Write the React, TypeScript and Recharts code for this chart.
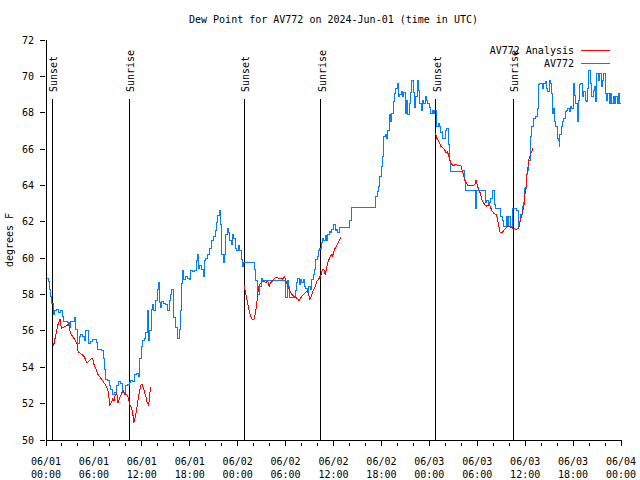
import { LineChart, Line, XAxis, YAxis, ReferenceLine } from "recharts";

// [hours since 06/01 00:00 UTC, dew point °F]
const blueDay1: [number, number][] = [
  [0, 58.9], [0.3, 58.7], [0.5, 58.3], [0.6, 57.9], [0.75, 57.5], [0.92, 56.9], [1.09, 57.1], [1.34, 57.2],
  [1.59, 57.0], [1.84, 57.1], [2.09, 56.8], [2.25, 56.5], [2.75, 56.45], [2.92, 56.2], [3.09, 56.5], [3.42, 56.5],
  [3.59, 56.75], [3.72, 56.1], [3.92, 55.3], [4.17, 55.7], [4.34, 55.8], [4.59, 55.7], [4.76, 55.45], [4.92, 56.0],
  [5.09, 56.05], [5.26, 55.3], [5.51, 55.4], [5.8, 55.55], [6.1, 55.55], [6.35, 55.35], [6.51, 55.0], [6.76, 55.0],
  [7.01, 54.9], [7.18, 54.5], [7.35, 53.9], [7.51, 53.35], [7.76, 53.3], [7.92, 53.0], [8.1, 52.8], [8.3, 52.5],
  [8.6, 52.6], [8.85, 53.0], [9.1, 53.2], [9.35, 53.1], [9.6, 52.65], [9.76, 52.6], [9.93, 53.0], [10.18, 53.05],
  [10.43, 53.15], [10.6, 53.3], [10.85, 53.2], [11.1, 53.6], [11.35, 53.65], [11.6, 53.5], [11.76, 54.5], [11.93, 55.15],
  [12.1, 55.45], [12.35, 55.6], [12.52, 55.9], [12.68, 57.1], [12.8, 55.45], [13.02, 56.0], [13.18, 57.2], [13.35, 57.45],
  [13.52, 57.1], [13.77, 57.7], [13.93, 58.3], [14.05, 58.65], [14.18, 57.55], [14.36, 57.3], [14.52, 57.6], [14.77, 57.5],
  [15.02, 57.45], [15.27, 57.1], [15.43, 57.65], [15.6, 58.0], [15.77, 58.3], [15.93, 57.65], [16.02, 56.75], [16.18, 56.2],
  [16.4, 56.2], [16.52, 55.6], [16.68, 56.1], [16.86, 57.1], [16.98, 58.6], [17.11, 59.3], [17.27, 58.85], [17.52, 59.0],
  [17.68, 58.9], [17.93, 58.85], [18.11, 59.3], [18.36, 59.25], [18.61, 59.3], [18.86, 59.85], [18.99, 60.2], [19.11, 59.45],
  [19.27, 59.6], [19.52, 59.4], [19.69, 59.0], [19.86, 59.85], [20.03, 60.0], [20.28, 60.2], [20.44, 60.55], [20.69, 60.95],
  [20.94, 61.2], [21.19, 61.55], [21.36, 61.95], [21.53, 62.35], [21.69, 62.65], [21.86, 61.85], [22.03, 60.2], [22.19, 59.75],
  [22.36, 60.2], [22.53, 61.3], [22.69, 61.65], [22.87, 61.4], [23.03, 60.95], [23.19, 60.75], [23.37, 61.3], [23.53, 61.1],
  [23.69, 60.55], [23.87, 60.4],
];
const blueDay2: [number, number][] = [
  [24.12, 60.7], [24.28, 60.4], [24.44, 59.95], [24.62, 59.55], [24.78, 59.75], [25.87, 59.75], [26.12, 59.4], [26.28, 58.75],
  [26.53, 58.0], [26.78, 58.45], [26.95, 58.9], [27.12, 58.75], [29.87, 58.75], [29.95, 58.2], [30.04, 57.85], [30.2, 58.75],
  [30.38, 58.45], [30.54, 57.85], [31.08, 57.85], [31.2, 58.2], [31.38, 58.65], [31.54, 58.9], [31.7, 58.55], [31.88, 58.85],
  [32.04, 58.65], [32.2, 58.85], [32.38, 58.45], [32.54, 58.35], [32.7, 58.1], [32.88, 58.45], [33.13, 58.3], [33.29, 58.85],
  [33.45, 59.1], [33.63, 59.4], [33.79, 59.95], [33.95, 60.1], [34.13, 60.4], [34.29, 60.55], [34.45, 60.85], [34.63, 61.1],
  [34.79, 60.95], [34.96, 61.25], [35.13, 60.95], [35.29, 61.3], [35.46, 61.45], [35.63, 61.4], [35.79, 61.6], [36.05, 61.85],
  [36.21, 61.55], [36.38, 61.6], [36.55, 61.4], [36.71, 61.7], [37.96, 61.7], [38.05, 62.1], [38.21, 62.8], [41.21, 62.8],
  [41.3, 63.4], [41.46, 63.65], [41.64, 63.95], [41.8, 64.5], [41.97, 65.05], [42.14, 65.6], [42.3, 66.7], [42.47, 66.8],
  [42.64, 66.6], [42.8, 67.05], [42.97, 67.9], [43.15, 67.5], [43.3, 67.95], [43.47, 68.6], [43.64, 69.05], [43.8, 69.35],
  [43.97, 69.6], [44.14, 68.9], [44.31, 69.0], [44.47, 69.15], [44.64, 68.9], [44.81, 69.1], [44.97, 67.95], [45.14, 68.7],
  [45.31, 67.9], [45.47, 68.5], [45.64, 69.1], [45.81, 69.8], [45.97, 69.1], [46.14, 68.3], [46.31, 68.9], [46.47, 69.8],
  [46.64, 69.25], [46.81, 68.5], [46.97, 68.1], [47.15, 68.7], [47.31, 68.5], [47.47, 68.9], [47.65, 68.65], [47.81, 68.5],
  [47.97, 68.3],
];
const blueDay3: [number, number][] = [
  [48.19, 67.95], [48.35, 68.1], [48.52, 67.95], [48.69, 68.15], [48.85, 67.5], [48.94, 67.25], [49.1, 67.4], [49.27, 67.25],
  [49.44, 66.9], [49.6, 66.95], [49.69, 66.6], [49.94, 66.6], [50.03, 67.05], [50.19, 67.15], [50.35, 66.25], [50.53, 65.4],
  [50.69, 64.75], [52.03, 64.75], [52.19, 64.85], [52.44, 64.3], [52.53, 63.75], [53.69, 63.75], [53.78, 62.75], [53.94, 63.75],
  [54.94, 63.75], [55.03, 63.05], [55.19, 63.2], [55.36, 62.95], [55.53, 63.05], [55.69, 63.3], [55.94, 63.75], [56.11, 62.95],
  [56.28, 62.75], [56.78, 62.75], [56.95, 62.3], [57.11, 62.1], [57.28, 61.75], [57.53, 61.75], [57.6, 62.3], [57.78, 61.75],
  [57.94, 62.3], [58.11, 61.75], [58.28, 61.75], [58.44, 62.75], [58.78, 62.75], [58.94, 62.65], [59.11, 61.75], [59.28, 62.0],
  [59.45, 62.4], [59.61, 62.85], [59.79, 63.05], [59.95, 63.85], [60.11, 64.6], [60.29, 64.85], [60.45, 65.4], [60.61, 65.95],
  [60.7, 66.7], [60.83, 67.25], [60.99, 67.7], [61.33, 67.8], [61.49, 68.25], [61.66, 69.55], [61.83, 69.6], [61.99, 69.6],
  [62.16, 69.35], [62.33, 69.6], [62.49, 69.7], [62.67, 69.35], [62.83, 69.15], [62.99, 69.8], [63.17, 69.6], [63.33, 69.05],
  [63.42, 67.95], [63.5, 68.25], [63.67, 67.5], [63.83, 67.25], [63.99, 66.6], [64.17, 66.5], [64.24, 66.15], [64.33, 66.8],
  [64.49, 67.25], [64.67, 67.5], [64.83, 67.7], [64.99, 68.05], [65.17, 68.15], [65.33, 68.25], [65.49, 68.05], [65.67, 68.35],
  [65.83, 68.25], [65.99, 69.6], [66.17, 68.95], [66.33, 68.5], [66.5, 67.5], [66.67, 68.7], [66.83, 69.55], [66.99, 69.6],
  [67.17, 68.9], [67.33, 69.15], [67.5, 68.7], [67.67, 68.6], [67.83, 69.35], [67.99, 70.35], [68.17, 69.6], [68.33, 68.9],
  [68.5, 69.25], [68.67, 69.45], [68.83, 68.6], [68.99, 70.15], [69.17, 69.8], [69.33, 70.15], [69.5, 69.45], [69.67, 69.8],
  [69.84, 70.15], [70.0, 69.05], [70.17, 68.7], [70.34, 69.05], [70.5, 68.5], [70.68, 69.05], [70.84, 68.5], [71.0, 68.9],
  [71.17, 68.5], [71.34, 68.9], [71.5, 68.5], [71.68, 69.05], [71.84, 68.5], [72, 68.5],
];

const redDay1: [number, number][] = [
  [0.84, 55.15], [1.0, 55.3], [1.16, 55.65], [1.34, 56.0], [1.5, 56.35], [1.66, 56.55], [1.75, 56.65], [1.84, 56.45],
  [1.91, 56.15], [2.17, 56.2], [2.42, 56.25], [2.67, 56.3], [2.84, 56.4], [2.92, 56.1], [3.17, 55.8], [3.42, 55.65],
  [3.67, 55.45], [3.92, 55.25], [4.0, 54.9], [4.17, 54.8], [4.51, 54.7], [4.76, 54.6], [4.92, 54.45], [5.09, 54.25],
  [5.34, 54.3], [5.59, 54.45], [5.84, 54.5], [6.01, 54.15], [6.26, 53.9], [6.51, 53.6], [6.76, 53.45], [7.1, 53.25],
  [7.35, 53.1], [7.6, 52.9], [7.76, 52.7], [7.92, 52.25], [8.01, 51.9], [8.17, 52.05], [8.35, 52.25], [8.51, 52.15],
  [8.67, 52.45], [8.85, 52.6], [9.01, 52.05], [9.17, 52.25], [9.35, 52.45], [9.51, 52.6], [9.67, 52.7], [9.85, 52.5],
  [10.01, 52.55], [10.18, 52.45], [10.35, 52.25], [10.51, 51.95], [10.68, 51.8], [10.85, 51.5], [11.01, 50.95], [11.18, 51.25],
  [11.35, 51.7], [11.51, 52.15], [11.68, 52.6], [11.85, 53.0], [12.02, 53.05], [12.18, 52.9], [12.35, 52.6], [12.52, 52.35],
  [12.68, 52.05], [12.85, 51.9], [13.02, 52.6], [13.1, 52.9],
];
const redDay2: [number, number][] = [
  [24.78, 58.55], [24.94, 58.2], [25.12, 57.85], [25.28, 57.45], [25.44, 57.1], [25.62, 56.8], [25.78, 56.65], [26.03, 56.65],
  [26.2, 56.9], [26.37, 57.45], [26.53, 58.1], [26.7, 58.55], [26.95, 58.65], [27.2, 58.75], [27.53, 58.65], [27.78, 58.75],
  [27.95, 58.45], [28.12, 58.65], [28.37, 58.75], [28.62, 58.9], [28.87, 58.95], [29.12, 58.9], [29.37, 58.9], [29.62, 58.85],
  [29.87, 59.0], [30.04, 58.75], [30.29, 58.45], [30.54, 58.2], [30.79, 58.0], [31.04, 57.9], [31.29, 57.85], [31.54, 57.75],
  [31.7, 57.65], [31.95, 57.85], [32.2, 58.0], [32.45, 58.1], [32.7, 58.2], [32.88, 58.0], [33.04, 57.75], [33.2, 57.9],
  [33.45, 58.2], [33.7, 58.45], [33.95, 58.75], [34.2, 58.9], [34.45, 59.1], [34.63, 59.4], [34.79, 59.4], [34.96, 59.1],
  [35.13, 59.45], [35.29, 59.75], [35.46, 59.95], [35.71, 60.2], [35.88, 60.1], [36.05, 60.4], [36.21, 60.55], [36.46, 60.75],
  [36.71, 60.95], [36.96, 61.2],
];
const redDay3: [number, number][] = [
  [48.77, 66.9], [48.94, 66.6], [49.1, 66.5], [49.27, 66.35], [49.44, 66.15], [49.6, 66.1], [49.77, 66.05], [49.94, 65.95],
  [50.1, 65.8], [50.28, 65.85], [50.44, 65.6], [50.6, 65.35], [50.78, 65.15], [51.03, 65.1], [51.28, 65.15], [51.6, 65.1],
  [51.94, 65.1], [52.1, 64.85], [52.28, 64.6], [52.44, 64.3], [52.6, 64.15], [52.85, 64.0], [53.27, 64.0], [53.52, 64.0],
  [53.78, 64.1], [53.85, 64.3], [54.03, 63.95], [54.28, 63.7], [54.44, 63.5], [54.6, 63.2], [54.78, 63.05], [54.94, 62.95],
  [55.19, 62.85], [55.36, 62.95], [55.61, 62.85], [55.86, 62.6], [56.11, 62.45], [56.36, 62.4], [56.53, 62.2], [56.7, 61.75],
  [56.86, 61.4], [57.11, 61.4], [57.28, 61.5], [57.45, 61.6], [57.7, 61.7], [57.95, 61.75], [58.2, 61.7], [58.45, 61.65],
  [58.7, 61.6], [58.95, 61.6], [59.2, 61.65], [59.36, 62.0], [59.53, 62.3], [59.7, 62.6], [59.86, 62.95], [59.95, 63.4],
  [60.11, 63.95], [60.2, 64.5], [60.49, 65.5], [60.7, 65.75], [60.99, 66.05],
];

const sunHours = [0.79, 10.43, 24.82, 34.42, 48.81, 58.48];
const sunNames = ["Sunset", "Sunrise", "Sunset", "Sunrise", "Sunset", "Sunrise"];
const sunLineTop = 68.75;

const xTicks = Array.from({ length: 37 }, (_, i) => i * 2);
const dateLabels = ["06/01", "06/01", "06/01", "06/01", "06/02", "06/02", "06/02", "06/02", "06/03", "06/03", "06/03", "06/03", "06/04"];
const timeLabels = ["00:00", "06:00", "12:00", "18:00", "00:00", "06:00", "12:00", "18:00", "00:00", "06:00", "12:00", "18:00", "00:00"];
const yTicks = [50, 52, 54, 56, 58, 60, 62, 64, 66, 68, 70, 72];

const RED = "#ff0000";
const BLUE = "#0080ff";
const FONT = "'DejaVu Sans Mono', 'Liberation Mono', monospace";

type Row = { h: number; v: number | null };

// joins segments into one row list, with a null row between them so the line breaks
function toRows(segments: [number, number][][]): Row[] {
  const rows: Row[] = [];
  segments.forEach((seg, i) => {
    if (i > 0) rows.push({ h: (seg[0][0] + rows[rows.length - 1].h) / 2, v: null });
    seg.forEach(([h, v]) => rows.push({ h, v }));
  });
  return rows;
}

const blueData = toRows([[...blueDay1, ...blueDay2, ...blueDay3]]);
const redData = toRows([redDay1, redDay2, redDay3]);

const BottomTick = (props: any) => {
  const { x, y, payload } = props;
  const h = payload.value as number;
  const major = h % 6 === 0;
  const idx = h / 6;
  return (
    <g>
      <line x1={x} x2={x} y1={y} y2={y - (major ? 6 : 3)} stroke="#000" shapeRendering="crispEdges" />
      {major && (
        <text x={x} y={y + 19} textAnchor="middle" fontFamily={FONT} fontSize={10} fill="#000">
          <tspan x={x}>{dateLabels[idx]}</tspan>
          <tspan x={x} dy={13}>{timeLabels[idx]}</tspan>
        </text>
      )}
    </g>
  );
};

const TopTick = (props: any) => {
  const { x, y, payload } = props;
  const major = (payload.value as number) % 6 === 0;
  return <line x1={x} x2={x} y1={y} y2={y + (major ? 6 : 3)} stroke="#000" shapeRendering="crispEdges" />;
};

const LeftTick = (props: any) => {
  const { x, y, payload } = props;
  return (
    <g>
      <line x1={x} x2={x + 5} y1={y} y2={y} stroke="#000" shapeRendering="crispEdges" />
      <text x={x - 6} y={y + 3.5} textAnchor="end" fontFamily={FONT} fontSize={10} fill="#000">
        {payload.value}
      </text>
    </g>
  );
};

const RightTick = (props: any) => {
  const { x, y } = props;
  return <line x1={x} x2={x - 5} y1={y} y2={y} stroke="#000" shapeRendering="crispEdges" />;
};

const sunLabel = (name: string) => (props: any) => {
  const vb = props.viewBox || {};
  const lx = vb.x + 5;
  const ly = vb.y - 7;
  return (
    <text x={lx} y={ly} transform={`rotate(-90 ${lx} ${ly})`} textAnchor="start" fontFamily={FONT} fontSize={10} fill="#000">
      {name}
    </text>
  );
};

const axisLine = { stroke: "#000", shapeRendering: "crispEdges" };

export default function App() {
  return (
    <div style={{ position: "absolute", left: 0, top: 0, width: 640, height: 480, background: "#fff" }}>
      <LineChart width={640} height={480} margin={{ top: 40, right: 19, bottom: 0, left: 0 }}>
        <XAxis
          xAxisId="b"
          type="number"
          dataKey="h"
          domain={[0, 72]}
          ticks={xTicks}
          interval={0}
          height={40}
          tickLine={false}
          tickMargin={0}
          axisLine={axisLine}
          tick={<BottomTick />}
          allowDataOverflow
        />
        <XAxis
          xAxisId="t"
          orientation="top"
          type="number"
          dataKey="h"
          domain={[0, 72]}
          ticks={xTicks}
          interval={0}
          height={0}
          tickLine={false}
          tickMargin={0}
          axisLine={axisLine}
          tick={<TopTick />}
          allowDataOverflow
        />
        <YAxis
          yAxisId="l"
          type="number"
          domain={[50, 72]}
          ticks={yTicks}
          interval={0}
          width={46}
          tickLine={false}
          tickMargin={0}
          axisLine={axisLine}
          tick={<LeftTick />}
          allowDataOverflow
        />
        <YAxis
          yAxisId="r"
          orientation="right"
          type="number"
          domain={[50, 72]}
          ticks={yTicks}
          interval={0}
          width={0}
          tickLine={false}
          tickMargin={0}
          axisLine={axisLine}
          tick={<RightTick />}
          allowDataOverflow
        />
        {sunHours.map((h, i) => (
          <ReferenceLine
            key={i}
            xAxisId="b"
            yAxisId="l"
            segment={[{ x: h, y: 50 }, { x: h, y: sunLineTop }]}
            stroke="#000"
            strokeWidth={1}
            shapeRendering="crispEdges"
            label={sunLabel(sunNames[i])}
          />
        ))}
        <Line
          xAxisId="t"
          yAxisId="r"
          data={blueData}
          dataKey="v"
          type="stepAfter"
          stroke={BLUE}
          strokeWidth={1}
          shapeRendering="crispEdges"
          dot={false}
          activeDot={false}
          isAnimationActive={false}
        />
        <Line
          xAxisId="b"
          yAxisId="l"
          data={redData}
          dataKey="v"
          type="linear"
          stroke={RED}
          strokeWidth={1}
          shapeRendering="crispEdges"
          dot={false}
          activeDot={false}
          isAnimationActive={false}
        />
      </LineChart>
      <svg width={640} height={480} style={{ position: "absolute", left: 0, top: 0, pointerEvents: "none" }}>
        <text x={333.5} y={23} textAnchor="middle" fontFamily={FONT} fontSize={10} fill="#000">
          Dew Point for AV772 on 2024-Jun-01 (time in UTC)
        </text>
        <text x={13} y={240} transform="rotate(-90 13 240)" textAnchor="middle" fontFamily={FONT} fontSize={10} fill="#000">
          degrees F
        </text>
        <text x={574} y={53.5} textAnchor="end" fontFamily={FONT} fontSize={10} fill="#000">
          AV772 Analysis
        </text>
        <line x1={581} x2={610} y1={50} y2={50} stroke={RED} shapeRendering="crispEdges" />
        <text x={574} y={66.5} textAnchor="end" fontFamily={FONT} fontSize={10} fill="#000">
          AV772
        </text>
        <line x1={581} x2={610} y1={63} y2={63} stroke={BLUE} shapeRendering="crispEdges" />
      </svg>
    </div>
  );
}
